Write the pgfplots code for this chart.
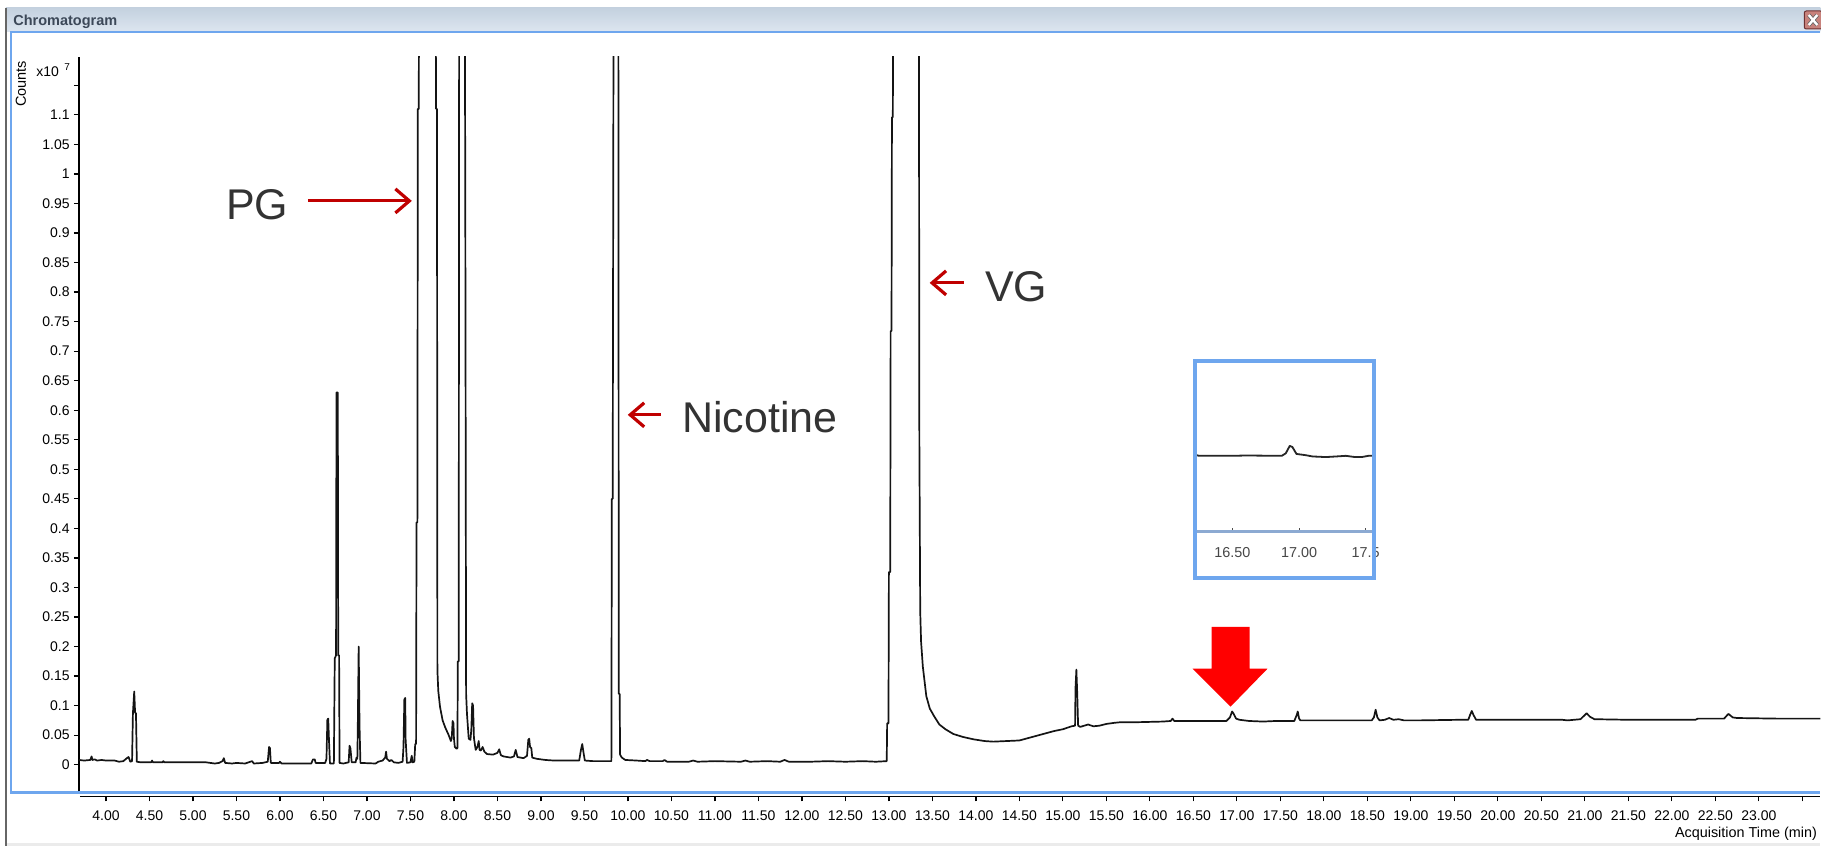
\documentclass[border=0pt]{standalone}
\usepackage{fontspec}
\setmainfont{Liberation Sans}
\usepackage{pgfplots}
\pgfplotsset{compat=1.18}
\usetikzlibrary{arrows.meta}
\definecolor{frameblue}{RGB}{110,166,238}
\definecolor{annred}{RGB}{192,0,0}
\definecolor{txtgray}{RGB}{51,51,51}
\definecolor{barTop}{RGB}{196,209,223}
\definecolor{barBot}{RGB}{221,230,240}
\definecolor{titlegray}{RGB}{60,72,88}
\definecolor{insetaxis}{RGB}{140,170,210}
\newcommand{\fs}[1]{\fontsize{#1}{#1}\selectfont}
\begin{document}
\begin{tikzpicture}
\begin{scope}[x=0.5pt,y=-0.5pt]
\path[use as bounding box] (0,0) rectangle (1821,846);
\fill[white] (0,0) rectangle (1821,846);
\shade[top color=barTop,bottom color=barBot] (6,8) rectangle (1821,32);
\fill[black!8] (6,843) rectangle (1821,846);
\draw[black!60, line width=0.75pt] (6,8) -- (6,846);
\draw[frameblue, line width=1.25pt] (1821,32) -- (11,32) -- (11,793) -- (1821,793);
\node[anchor=base west, inner sep=0pt, font=\fs{7.25}\bfseries, text=titlegray] at (13,25.5) {Chromatogram};
\draw[fill={rgb,255:red,200;green,130;blue,124}, draw={rgb,255:red,110;green,50;blue,50}, line width=0.5pt, rounded corners=1pt] (1805,11) rectangle (1823,29);
\draw[black!60, line width=2pt] (1809.5,15) -- (1818,25) (1809.5,25) -- (1818,15);
\draw[white, line width=1.2pt] (1809.5,15) -- (1818,25) (1809.5,25) -- (1818,15);
\node[rotate=90, inner sep=0pt, font=\fs{7.25}] at (21,84) {Counts};
\node[anchor=base west, inner sep=0pt, font=\fs{7}] at (36,76.7) {x10};
\node[anchor=base west, inner sep=0pt, font=\fs{5}] at (64,70.5) {7};
\node[anchor=base east, inner sep=0pt, font=\fs{7.2}] at (1818,838) {Acquisition Time (min)};
\end{scope}

% main axis: y axis and trace
\begin{axis}[
  at={(79*0.5pt,-791.7*0.5pt)}, anchor=south west,
  scale only axis, width=871pt, height=367.35pt,
  xmin=3.6898, xmax=23.706, ymin=-0.0452, ymax=1.198,
  hide x axis,
  axis y line=left, y axis line style={-, line width=0.75pt, black},
  ytick={0,0.05,0.1,0.15,0.2,0.25,0.3,0.35,0.4,0.45,0.5,0.55,0.6,0.65,0.7,0.75,0.8,0.85,0.9,0.95,1,1.05,1.1,1.15},
  yticklabels={0,0.05,0.1,0.15,0.2,0.25,0.3,0.35,0.4,0.45,0.5,0.55,0.6,0.65,0.7,0.75,0.8,0.85,0.9,0.95,1,1.05,1.1,{}},
  tick align=outside, major tick length=2.5pt,
  ytick style={black, line width=0.6pt},
  yticklabel style={font=\fs{7}, inner sep=0pt, xshift=-2pt},
  /pgf/number format/assume math mode=true,
  clip=true,
]
\addplot[black!92, line width=0.85pt, line join=round] coordinates {
(3.69,0.008) (3.75,0.007) (3.82,0.008) (3.835,0.014) (3.845,0.008) (3.87,0.009) (3.9,0.007) (3.95,0.008)
(4.0,0.007) (4.1,0.007) (4.15,0.005) (4.2,0.006) (4.24,0.011) (4.26,0.013) (4.28,0.005) (4.30,0.006)
(4.31,0.087) (4.325,0.124) (4.335,0.088) (4.345,0.087) (4.355,0.005) (4.4,0.004) (4.52,0.004) (4.53,0.007)
(4.54,0.004) (4.65,0.004) (4.66,0.006) (4.67,0.004) (5.15,0.004) (5.25,0.002) (5.3,0.003) (5.34,0.006)
(5.355,0.011) (5.37,0.003) (5.45,0.002) (5.5,0.003) (5.6,0.002) (5.68,0.006) (5.7,0.002) (5.8,0.003)
(5.86,0.005) (5.875,0.030) (5.885,0.028) (5.895,0.003) (5.99,0.003) (6.0,0.005) (6.02,0.002) (6.36,0.002)
(6.38,0.009) (6.40,0.009) (6.41,0.003) (6.52,0.003) (6.535,0.010) (6.545,0.076) (6.555,0.078) (6.565,0.037)
(6.575,0.002) (6.62,0.002) (6.63,0.180) (6.645,0.185) (6.65,0.630) (6.665,0.630) (6.67,0.185) (6.68,0.185)
(6.685,0.003) (6.73,0.002) (6.79,0.004) (6.80,0.032) (6.81,0.028) (6.815,0.020) (6.825,0.004) (6.87,0.004)
(6.88,0.012) (6.89,0.010) (6.895,0.065) (6.905,0.200) (6.915,0.065) (6.925,0.003) (7.1,0.002) (7.13,0.005)
(7.18,0.007) (7.21,0.012) (7.22,0.022) (7.23,0.010) (7.26,0.006) (7.28,0.008) (7.31,0.004) (7.36,0.003)
(7.41,0.005) (7.42,0.030) (7.43,0.110) (7.44,0.113) (7.445,0.042) (7.46,0.003) (7.50,0.004) (7.515,0.015)
(7.525,0.004) (7.545,0.005) (7.555,0.035) (7.565,0.035) (7.570,0.41) (7.58,0.41) (7.585,1.11) (7.595,1.11)
(7.60,1.3) (7.79,1.3) (7.795,1.11) (7.805,1.11) (7.81,0.16) (7.82,0.125) (7.84,0.098) (7.87,0.075)
(7.90,0.063) (7.94,0.05) (7.965,0.040) (7.975,0.045) (7.985,0.074) (7.995,0.070) (8.0,0.045) (8.01,0.030)
(8.03,0.027) (8.04,0.028) (8.045,0.175) (8.055,0.175) (8.06,1.3) (8.125,1.3) (8.13,1.0) (8.14,0.12)
(8.15,0.086) (8.17,0.044) (8.19,0.042) (8.2,0.060) (8.21,0.104) (8.22,0.100) (8.23,0.045) (8.25,0.025)
(8.27,0.030) (8.285,0.040) (8.295,0.025) (8.31,0.024) (8.33,0.030) (8.35,0.022) (8.38,0.018) (8.45,0.017)
(8.50,0.020) (8.52,0.026) (8.54,0.016) (8.57,0.014) (8.65,0.012) (8.69,0.014) (8.71,0.025) (8.73,0.013)
(8.80,0.011) (8.84,0.015) (8.855,0.042) (8.865,0.044) (8.875,0.030) (8.89,0.028) (8.90,0.012) (8.95,0.010)
(9.05,0.008) (9.15,0.007) (9.3,0.007) (9.44,0.007) (9.46,0.025) (9.475,0.035) (9.49,0.020) (9.505,0.007)
(9.6,0.006) (9.81,0.006) (9.815,0.45) (9.825,0.45) (9.835,1.3) (9.89,1.3) (9.895,0.12) (9.905,0.12)
(9.91,0.017) (9.93,0.012) (9.97,0.008) (10.1,0.007) (10.2,0.006) (10.22,0.008) (10.25,0.006) (10.4,0.006)
(10.42,0.008) (10.45,0.005) (10.7,0.005) (10.75,0.007) (10.8,0.005) (11.0,0.006) (11.3,0.005) (11.35,0.007)
(11.4,0.005) (11.6,0.006) (11.75,0.005) (11.8,0.008) (11.85,0.005) (12.1,0.005) (12.3,0.006) (12.5,0.005)
(12.7,0.006) (12.85,0.005) (12.975,0.006) (12.98,0.070) (12.995,0.070) (13.0,0.326) (13.015,0.326) (13.02,0.734)
(13.03,0.734) (13.035,1.096) (13.045,1.096) (13.05,1.3) (13.345,1.3) (13.35,0.553) (13.36,0.259) (13.37,0.208)
(13.39,0.166) (13.43,0.116) (13.47,0.095) (13.52,0.082) (13.58,0.068) (13.65,0.060) (13.74,0.052) (13.85,0.047)
(13.97,0.043) (14.1,0.040) (14.2,0.039) (14.35,0.040) (14.5,0.041) (14.65,0.047) (14.8,0.053) (14.9,0.057)
(15.0,0.060) (15.1,0.065) (15.14,0.066) (15.145,0.13) (15.155,0.161) (15.165,0.12) (15.175,0.066) (15.2,0.064)
(15.29,0.068) (15.35,0.065) (15.42,0.066) (15.5,0.069) (15.6,0.071) (15.67,0.072) (15.88,0.072) (16.15,0.073)
(16.24,0.074) (16.26,0.078) (16.28,0.074) (16.53,0.074) (16.88,0.074) (16.92,0.080) (16.945,0.090) (16.96,0.087)
(16.99,0.078) (17.03,0.076) (17.14,0.074) (17.3,0.073) (17.45,0.074) (17.66,0.074) (17.685,0.083) (17.70,0.090)
(17.715,0.078) (17.73,0.075) (18.0,0.075) (18.2,0.075) (18.55,0.075) (18.575,0.080) (18.595,0.093) (18.615,0.080)
(18.64,0.075) (18.7,0.076) (18.75,0.079) (18.8,0.076) (18.86,0.077) (18.92,0.075) (19.1,0.075) (19.56,0.076)
(19.66,0.076) (19.68,0.084) (19.70,0.091) (19.72,0.084) (19.75,0.076) (20.74,0.076) (20.8,0.075) (20.95,0.077)
(21.02,0.087) (21.06,0.081) (21.11,0.077) (21.5,0.076) (22.27,0.076) (22.3,0.078) (22.6,0.078) (22.65,0.086)
(22.7,0.080) (22.75,0.079) (23.2,0.078) (23.706,0.078)
};
\end{axis}

% x axis (time)
\begin{axis}[
  at={(80*0.5pt,-796.7*0.5pt)}, anchor=south west,
  scale only axis, width=870.5pt, height=2pt,
  xmin=3.7013, xmax=23.706, ymin=0, ymax=1,
  hide y axis,
  axis x line=bottom, x axis line style={-, line width=0.75pt, black},
  xtick={4,4.5,5,5.5,6,6.5,7,7.5,8,8.5,9,9.5,10,10.5,11,11.5,12,12.5,13,13.5,14,14.5,15,15.5,16,16.5,17,17.5,18,18.5,19,19.5,20,20.5,21,21.5,22,22.5,23,23.5},
  xticklabels={4.00,4.50,5.00,5.50,6.00,6.50,7.00,7.50,8.00,8.50,9.00,9.50,10.00,10.50,11.00,11.50,12.00,12.50,13.00,13.50,14.00,14.50,15.00,15.50,16.00,16.50,17.00,17.50,18.00,18.50,19.00,19.50,20.00,20.50,21.00,21.50,22.00,22.50,23.00,{}},
  tick align=outside, major tick length=2.5pt,
  xtick style={black, line width=0.6pt},
  xticklabel style={font=\fs{7}, inner sep=0pt, yshift=-4.5pt},
  /pgf/number format/assume math mode=true,
]
\addplot[draw=none] coordinates {(4,0.5)};
\end{axis}

% inset
\begin{axis}[
  at={(1197*0.5pt,-532*0.5pt)}, anchor=south west,
  scale only axis, width=88.5pt, height=84.5pt,
  xmin=16.23, xmax=17.558, ymin=-0.0476, ymax=0.2228,
  hide y axis,
  axis x line=bottom, x axis line style={-, line width=1.4pt, insetaxis},
  xtick={16.5,17,17.5}, xticklabels={16.50,17.00,17.5},
  tick align=inside, major tick length=2pt,
  xtick style={black!70, line width=0.5pt},
  xticklabel style={font=\fs{7.2}, text=black!72, inner sep=0pt, yshift=-7.5pt},
  clip=true,
]
\addplot[black!85, line width=0.9pt, line join=round] coordinates {
(16.23,0.075) (16.25,0.074) (16.5,0.074) (16.6,0.0745) (16.87,0.074) (16.90,0.078) (16.93,0.090) (16.95,0.088)
(16.98,0.077) (17.05,0.075) (17.1,0.073) (17.2,0.072) (17.28,0.073) (17.35,0.074) (17.42,0.072) (17.47,0.072)
(17.52,0.074) (17.558,0.074)
};
\end{axis}

\begin{scope}[x=0.5pt,y=-0.5pt]
\draw[frameblue, line width=2pt] (1195,361) rectangle (1375,578);
% annotations
\draw[annred, line width=1.5pt, -{Straight Barb[length=7pt, width=12pt, line width=1.6pt]}] (308,201) -- (412,201);
\draw[annred, line width=1.5pt, -{Straight Barb[length=7pt, width=12pt, line width=1.6pt]}] (661,415) -- (628,415);
\draw[annred, line width=1.5pt, -{Straight Barb[length=7pt, width=12pt, line width=1.6pt]}] (964,283) -- (930,283);
\node[anchor=base west, inner sep=0pt, font=\fs{21.5}, text=txtgray] at (226,219.5) {PG};
\node[anchor=base west, inner sep=0pt, font=\fs{21.5}, text=txtgray] at (682,433) {Nicotine};
\node[anchor=base west, inner sep=0pt, font=\fs{21.5}, text=txtgray] at (985,302) {VG};
\fill[red] (1212,627) -- (1250,627) -- (1250,669) -- (1268,669) -- (1231,707) -- (1193,669) -- (1212,669) -- cycle;
\end{scope}
\end{tikzpicture}
\end{document}
